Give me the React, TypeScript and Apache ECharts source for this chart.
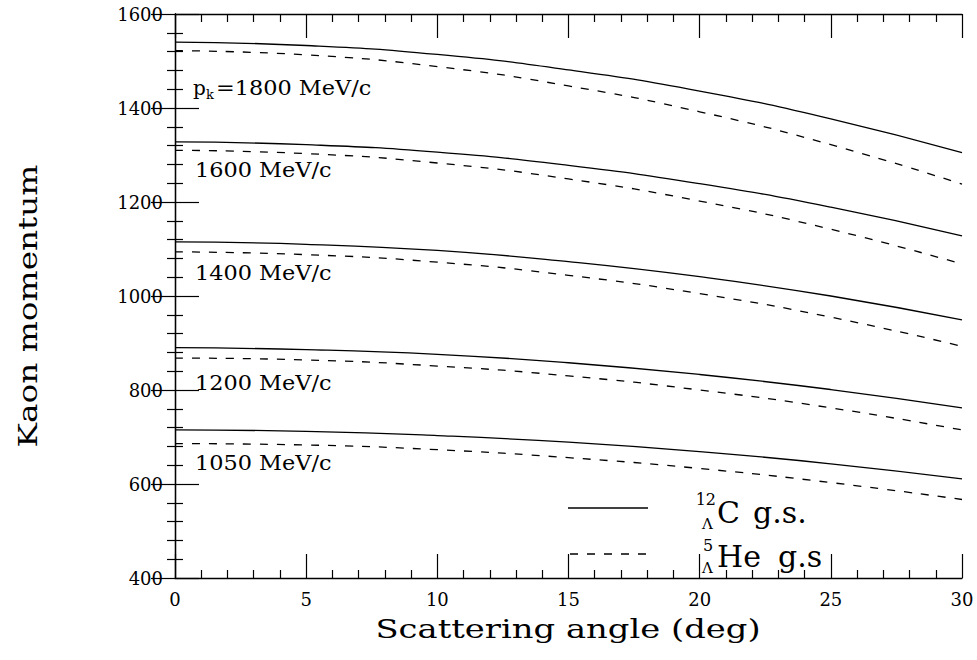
import React, { useEffect, useRef } from "react";
import * as echarts from "echarts";

const angles = [0, 5, 10, 15, 20, 25, 30];
const c1800 = [1540, 1533, 1514, 1481, 1436, 1377, 1305];
const he1800 = [1522, 1513, 1488, 1447, 1392, 1322, 1238];
const c1600 = [1328, 1322, 1306, 1278, 1239, 1189, 1128];
const he1600 = [1310, 1303, 1283, 1249, 1202, 1142, 1068];
const c1400 = [1115, 1110, 1097, 1073, 1041, 1000, 949];
const he1400 = [1094, 1088, 1072, 1044, 1005, 955, 893];
const c1200 = [890, 886, 876, 858, 833, 801, 762];
const he1200 = [868, 864, 851, 830, 800, 762, 715];
const c1050 = [715, 712, 703, 689, 669, 643, 611];
const he1050 = [686, 683, 673, 656, 633, 603, 567];

const solidSeries = [c1800, c1600, c1400, c1200, c1050];
const dashedSeries = [he1800, he1600, he1400, he1200, he1050];
const beamLabels = ["1600 MeV/c", "1400 MeV/c", "1200 MeV/c", "1050 MeV/c"];

const FONT = "DejaVu Serif";
const BLACK = "#000";

function axisCommon(showLabel: boolean) {
  return {
    axisLine: { show: true, lineStyle: { color: BLACK, width: 1.3 } },
    axisTick: { show: true, inside: true, length: 24, lineStyle: { color: BLACK, width: 1.2 } },
    minorTick: { show: true, splitNumber: 5, length: 8, lineStyle: { color: BLACK, width: 1.2 } },
    splitLine: { show: false },
    minorSplitLine: { show: false },
    axisLabel: {
      show: showLabel,
      fontFamily: FONT,
      fontSize: 18,
      color: BLACK,
      margin: 12,
      formatter: (v: number) => String(v),
    },
  };
}

export default function App() {
  const ref = useRef<HTMLDivElement>(null);
  useEffect(() => {
    if (!ref.current) return;
    const chart = echarts.init(ref.current, null, { renderer: "svg" });
    const series: any[] = [];
    solidSeries.forEach((arr) => {
      series.push({
        type: "line",
        data: angles.map((a, i) => [a, arr[i]]),
        showSymbol: false,
        smooth: 0.5,
        lineStyle: { color: BLACK, width: 1.3, type: "solid" },
        silent: true,
      });
    });
    dashedSeries.forEach((arr) => {
      series.push({
        type: "line",
        data: angles.map((a, i) => [a, arr[i]]),
        showSymbol: false,
        smooth: 0.5,
        lineStyle: { color: BLACK, width: 1.3, type: [8, 9] },
        silent: true,
      });
    });

    const labelYs = [170, 273, 383, 463];
    const graphics: any[] = [];
    graphics.push(
      { type: "text", x: 193, y: 88, style: { text: "p", font: `20px '${FONT}'`, fill: BLACK, textVerticalAlign: "middle" } },
      { type: "text", x: 206, y: 94, style: { text: "k", font: `13px '${FONT}'`, fill: BLACK, textVerticalAlign: "middle" } },
      { type: "text", x: 216, y: 88, scaleX: 1.12, style: { text: "=1800 MeV/c", font: `20px '${FONT}'`, fill: BLACK, textVerticalAlign: "middle" } }
    );
    beamLabels.forEach((t, i) => {
      graphics.push({
        type: "text",
        x: 195,
        y: labelYs[i],
        scaleX: 1.12,
        style: { text: t, font: `20px '${FONT}'`, fill: BLACK, textVerticalAlign: "middle" },
      });
    });
    graphics.push(
      { type: "line", shape: { x1: 568, y1: 508, x2: 648, y2: 508 }, style: { stroke: BLACK, lineWidth: 1.3 } },
      { type: "line", shape: { x1: 570, y1: 554, x2: 650, y2: 554 }, style: { stroke: BLACK, lineWidth: 1.3, lineDash: [8, 9] } },
      { type: "text", x: 716, y: 499, style: { text: "12", font: `16px '${FONT}'`, fill: BLACK, textAlign: "right", textVerticalAlign: "middle" } },
      { type: "text", x: 702, y: 524, style: { text: "Λ", font: `15px '${FONT}'`, fill: BLACK, textVerticalAlign: "middle" } },
      { type: "text", x: 717, y: 512, style: { text: "C", font: `30px '${FONT}'`, fill: BLACK, textVerticalAlign: "middle" } },
      { type: "text", x: 753, y: 512, style: { text: "g.s.", font: `30px '${FONT}'`, fill: BLACK, textVerticalAlign: "middle" } },
      { type: "text", x: 703, y: 545, style: { text: "5", font: `16px '${FONT}'`, fill: BLACK, textVerticalAlign: "middle" } },
      { type: "text", x: 702, y: 568, style: { text: "Λ", font: `15px '${FONT}'`, fill: BLACK, textVerticalAlign: "middle" } },
      { type: "text", x: 717, y: 556, style: { text: "He", font: `30px '${FONT}'`, fill: BLACK, textVerticalAlign: "middle" } },
      { type: "text", x: 778, y: 556, style: { text: "g.s", font: `30px '${FONT}'`, fill: BLACK, textVerticalAlign: "middle" } }
    );
    graphics.push(
      {
        type: "text",
        x: 568,
        y: 629,
        scaleX: 1.3,
        style: { text: "Scattering angle (deg)", font: `26px '${FONT}'`, fill: BLACK, textAlign: "center", textVerticalAlign: "middle" },
      },
      {
        type: "text",
        x: 28,
        y: 306,
        rotation: Math.PI / 2,
        scaleX: 1.26,
        style: { text: "Kaon momentum", font: `26px '${FONT}'`, fill: BLACK, textAlign: "center", textVerticalAlign: "middle" },
      }
    );

    chart.setOption({
      animation: false,
      backgroundColor: "#fff",
      grid: { left: 175, right: 15, top: 14, bottom: 82, containLabel: false },
      xAxis: [
        { type: "value", min: 0, max: 30, interval: 5, position: "bottom", ...axisCommon(true) },
        { type: "value", min: 0, max: 30, interval: 5, position: "top", ...axisCommon(false) },
      ],
      yAxis: [
        { type: "value", min: 400, max: 1600, interval: 200, position: "left", ...axisCommon(true) },
        { type: "value", min: 400, max: 1600, interval: 200, position: "right", ...axisCommon(false) },
      ],
      series,
      graphic: graphics,
    });
    return () => chart.dispose();
  }, []);
  return <div ref={ref} style={{ position: "fixed", left: 0, top: 0, width: 977, height: 660, background: "#fff" }} />;
}
